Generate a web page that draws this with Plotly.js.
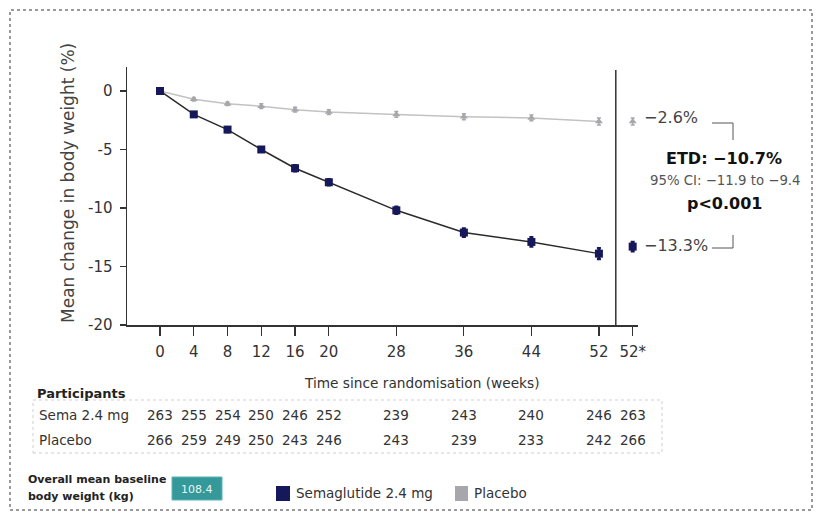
<!DOCTYPE html>
<html>
<head>
<meta charset="utf-8">
<script src="https://cdn.plot.ly/plotly-3.0.1.min.js"></script>
<style>html,body{margin:0;padding:0;background:#fff;}#chart{width:819px;height:516px;}</style>
</head>
<body>
<div id="chart"></div>
<script>
// ---- data ----
const weeks = [0, 4, 8, 12, 16, 20, 28, 36, 44, 52];
const semaMean = [0, -2.0, -3.3, -5.0, -6.6, -7.8, -10.2, -12.1, -12.9, -13.9];
const semaErr = [0.1, 0.15, 0.2, 0.2, 0.25, 0.25, 0.3, 0.35, 0.4, 0.45];
const placeboMean = [0, -0.7, -1.1, -1.3, -1.6, -1.8, -2.0, -2.2, -2.3, -2.6];
const placeboErr = [0.05, 0.15, 0.15, 0.2, 0.2, 0.2, 0.25, 0.25, 0.25, 0.3];
const finalWeek = 56;            // position of the "52*" column
const semaFinal = -13.3;
const placeboFinal = -2.6;
const tickWeeks = [0, 4, 8, 12, 16, 20, 28, 36, 44, 52, 56];
const tickLabels = ['0', '4', '8', '12', '16', '20', '28', '36', '44', '52', '52*'];
const yTicks = [0, -5, -10, -15, -20];
const yTickLabels = ['0', '-5', '-10', '-15', '-20'];
const semaN = [263, 255, 254, 250, 246, 252, 239, 243, 240, 246, 263];
const placeboN = [266, 259, 249, 250, 243, 246, 243, 239, 233, 242, 266];
const baselineWeight = '108.4';

// ---- layout helpers (pixel -> paper) ----
const L = 127, R = 638, T = 67, B = 325;
const W = R - L, H = B - T;
const px = v => (v - L) / W;
const py = v => (B - v) / H;

const FONT = 'DejaVu Sans, Verdana, sans-serif';
const navy = '#16185c';
const grey = '#a6a6ab';
const textC = '#333';

const traces = [
  {x: weeks, y: placeboMean, mode: 'lines+markers', name: 'Placebo',
   line: {color: '#c2c2c2', width: 1.5},
   marker: {symbol: 'triangle-up', size: 7, color: grey},
   error_y: {type: 'data', array: placeboErr, color: grey, thickness: 1.5, width: 2}},
  {x: weeks, y: semaMean, mode: 'lines+markers', name: 'Semaglutide 2.4 mg',
   line: {color: '#2a2a2a', width: 1.5},
   marker: {symbol: 'square', size: 8, color: navy},
   error_y: {type: 'data', array: semaErr, color: navy, thickness: 2.5, width: 2}},
  {x: [finalWeek], y: [placeboFinal], mode: 'markers',
   marker: {symbol: 'triangle-up', size: 7, color: grey},
   error_y: {type: 'data', array: [0.3], color: grey, thickness: 1.5, width: 2}},
  {x: [finalWeek], y: [semaFinal], mode: 'markers',
   marker: {symbol: 'square', size: 8, color: navy},
   error_y: {type: 'data', array: [0.4], color: navy, thickness: 2.5, width: 2}}
];

const ann = [];
function txt(x, y, text, size, opts) {
  ann.push(Object.assign({xref: 'paper', yref: 'paper', x: x, y: y, text: text,
    showarrow: false, font: {family: FONT, size: size, color: textC},
    xanchor: 'center', yanchor: 'middle'}, opts || {}));
}
// axis titles
txt(px(68), py(183), 'Mean change in body weight (%)', 17, {textangle: -90, font: {family: FONT, size: 17, color: '#444'}});
txt(px(422), py(383), 'Time since randomisation (weeks)', 13.7);
// right-hand labels
txt(px(642), py(117), '−2.6%', 16, {xanchor: 'left', font: {family: FONT, size: 16, color: '#444'}});
txt(px(642), py(245), '−13.3%', 16, {xanchor: 'left', font: {family: FONT, size: 16, color: '#444'}});
txt(px(724), py(158), '<b>ETD: −10.7%</b>', 16, {font: {family: FONT, size: 16, color: '#111'}});
txt(px(725), py(180), '95% CI: −11.9 to −9.4', 13.3, {font: {family: FONT, size: 13.3, color: '#555'}});
txt(px(724), py(203), '<b>p&lt;0.001</b>', 16, {font: {family: FONT, size: 16, color: '#111'}});
// participants table
txt(px(35), py(393), '<b>Participants</b>', 13, {xanchor: 'left', font: {family: FONT, size: 13, color: '#222'}});
txt(px(37), py(415), 'Sema 2.4 mg', 13.5, {xanchor: 'left'});
txt(px(37), py(440), 'Placebo', 13.5, {xanchor: 'left'});
tickWeeks.forEach((w, i) => {
  ann.push({xref: 'x', yref: 'paper', x: w, y: py(415), text: String(semaN[i]), showarrow: false,
    font: {family: FONT, size: 13.5, color: textC}, xanchor: 'center', yanchor: 'middle'});
  ann.push({xref: 'x', yref: 'paper', x: w, y: py(440), text: String(placeboN[i]), showarrow: false,
    font: {family: FONT, size: 13.5, color: textC}, xanchor: 'center', yanchor: 'middle'});
});
// bottom legend block
txt(px(26), py(479), '<b>Overall mean baseline</b>', 11, {xanchor: 'left', font: {family: FONT, size: 11, color: '#222'}});
txt(px(26), py(497), '<b>body weight (kg)</b>', 11, {xanchor: 'left', font: {family: FONT, size: 11, color: '#222'}});
txt(px(197), py(489), baselineWeight, 11, {font: {family: FONT, size: 11, color: '#e8f6f6'}});
txt(px(294), py(493), 'Semaglutide 2.4 mg', 13.5, {xanchor: 'left'});
txt(px(472), py(493), 'Placebo', 13.5, {xanchor: 'left'});

const shapes = [
  // outer dotted frame
  {type: 'rect', xref: 'paper', yref: 'paper', x0: px(10), x1: px(812), y0: py(510), y1: py(10),
   line: {color: '#9a9a9a', width: 2, dash: 'dot'}},
  // separator between 52 and 52*
  {type: 'line', xref: 'x', yref: 'paper', x0: 54, x1: 54, y0: 0, y1: py(70),
   line: {color: '#333', width: 1.5}},
  // brackets
  {type: 'path', xref: 'paper', yref: 'paper',
   path: `M ${px(712)} ${py(123)} L ${px(733)} ${py(123)} L ${px(733)} ${py(140)}`,
   line: {color: '#555', width: 1}},
  {type: 'path', xref: 'paper', yref: 'paper',
   path: `M ${px(712)} ${py(248)} L ${px(733)} ${py(248)} L ${px(733)} ${py(235)}`,
   line: {color: '#555', width: 1}},
  // participants table box
  {type: 'rect', xref: 'paper', yref: 'paper', x0: px(33), x1: px(662), y0: py(453), y1: py(400),
   line: {color: '#cfcfcf', width: 1, dash: 'dot'}},
  // baseline weight box
  {type: 'rect', xref: 'paper', yref: 'paper', x0: px(172), x1: px(222), y0: py(500), y1: py(477),
   fillcolor: '#35999a', line: {color: '#5bb5b5', width: 1}},
  // legend swatches
  {type: 'rect', xref: 'paper', yref: 'paper', x0: px(276), x1: px(290), y0: py(501), y1: py(486),
   fillcolor: navy, line: {width: 0}},
  {type: 'rect', xref: 'paper', yref: 'paper', x0: px(455), x1: px(468), y0: py(501), y1: py(486),
   fillcolor: grey, line: {width: 0}}
];

const layout = {
  width: 819, height: 516,
  margin: {l: L, r: 819 - R, t: T, b: 516 - B},
  paper_bgcolor: '#fff', plot_bgcolor: '#fff',
  showlegend: false,
  font: {family: FONT, color: '#222'},
  xaxis: {range: [-3.91, 56.63], tickmode: 'array', tickvals: tickWeeks, ticktext: tickLabels,
    showgrid: false, zeroline: false, showline: true, linecolor: '#333', linewidth: 1.5,
    ticks: 'outside', ticklen: 9, tickcolor: '#333', tickwidth: 1.2, ticklabelstandoff: 3,
    tickfont: {family: FONT, size: 15, color: textC}, fixedrange: true},
  yaxis: {range: [-20, 2.05], tickmode: 'array', tickvals: yTicks, ticktext: yTickLabels,
    showgrid: false, zeroline: false, showline: true, linecolor: '#333', linewidth: 1.5,
    ticks: 'outside', ticklen: 6, tickcolor: '#333', tickwidth: 1.2, ticklabelstandoff: 4,
    tickfont: {family: FONT, size: 15, color: textC}, fixedrange: true},
  annotations: ann,
  shapes: shapes
};

Plotly.newPlot('chart', traces, layout, {displayModeBar: false, staticPlot: true});
</script>
</body>
</html>
